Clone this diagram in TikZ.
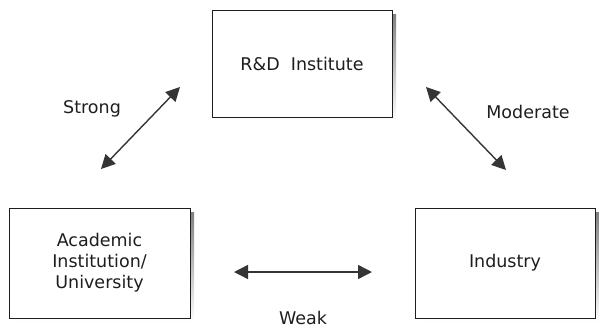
\documentclass[tikz,border=0pt]{standalone}
\usepackage{fontspec}
\setmainfont{DejaVu Sans}
\usetikzlibrary{arrows.meta}
\definecolor{ink}{HTML}{1E1E1E}
\definecolor{shade}{HTML}{D2D2D2}
\tikzset{
  box/.style={draw=ink, line width=0.9pt, fill=white, rectangle, inner sep=0pt,
    font=\fontsize{17.5}{21}\selectfont, text=ink, align=center},
  link/.style={draw=ink!90, line width=1.4pt, {Triangle[length=14pt,width=14pt]}-{Triangle[length=14pt,width=14pt]}},
  lbl/.style={font=\fontsize{17.5}{21}\selectfont, text=ink, inner sep=0pt},
}
\begin{document}
\begin{tikzpicture}[x=1pt,y=-1pt]
\useasboundingbox (0,0) rectangle (599,330);
% shadows
\fill[shade] (216,14) rectangle (396,121);
\fill[shade] (13,212) rectangle (194,322);
\fill[shade] (419,212) rectangle (599,322);
% boxes
\node[box, minimum width=180pt, minimum height=107pt] (rd) at (302,63.5) {R\&D\ \ Institute};
\node[box, minimum width=181pt, minimum height=110pt] (acad) at (99.5,263) {Academic\\Institution/\\University};
\node[box, minimum width=180pt, minimum height=110pt] (ind) at (505,263) {Industry};
% arrow ends
\coordinate (s1) at (101,169);
\coordinate (s2) at (180,87);
\coordinate (m1) at (426,87);
\coordinate (m2) at (506,170);
\coordinate (w1) at (234,272);
\coordinate (w2) at (372,272);
\draw[link] (s1) -- (s2);
\draw[link] (m1) -- (m2);
\draw[link] (w1) -- (w2);
% labels
\node[lbl] (ls) at (92,109) {Strong};
\node[lbl] (lm) at (528,112) {Moderate};
\node[lbl] (lw) at (303,318) {Weak};
\end{tikzpicture}
\end{document}
